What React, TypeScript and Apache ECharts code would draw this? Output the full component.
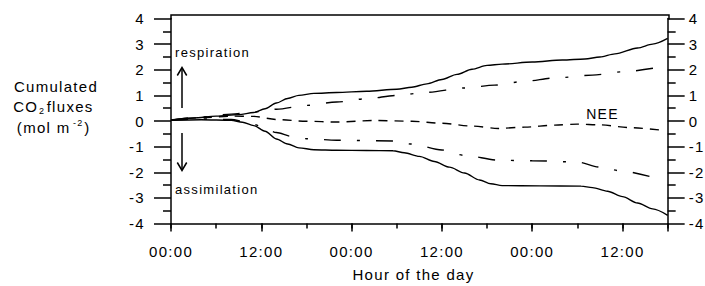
import React, { useEffect, useRef } from "react";
import * as echarts from "echarts";

const FONT = "'Liberation Sans', Arial, Helvetica, sans-serif";

const xTickLabels = ["00:00", "12:00"];

// [hour since start, cumulated CO2 flux (mol m-2)]
const upperSolid: [number, number][] = [
  [0, 0.03], [3, 0.12], [6, 0.19], [9, 0.25], [11, 0.33], [12.5, 0.48], [14, 0.7],
  [15.5, 0.88], [17, 1.0], [19, 1.08], [22, 1.11], [26, 1.16], [30, 1.24], [32, 1.32],
  [34, 1.45], [36, 1.62], [38, 1.82], [40, 2.02], [42, 2.17], [44, 2.22], [48, 2.3],
  [52, 2.38], [55, 2.42], [57, 2.5], [59, 2.62], [62, 2.85], [64, 3.0], [66, 3.22],
];

const lowerSolid: [number, number][] = [
  [0, 0.03], [4, 0.05], [8, 0.03], [9.5, -0.05], [11, -0.18], [12.5, -0.4], [14, -0.7],
  [15.5, -0.9], [17, -1.05], [19, -1.12], [22, -1.14], [26, -1.15], [29.5, -1.16],
  [31, -1.24], [33, -1.38], [35, -1.58], [37, -1.8], [39, -2.03], [41, -2.3],
  [42.5, -2.45], [44, -2.52], [49, -2.53], [54.5, -2.54], [56, -2.6], [58, -2.74],
  [60, -2.95], [62, -3.2], [64, -3.43], [66, -3.68],
];

const upperDashDot: [number, number][] = [
  [0, 0.04], [4, 0.16], [8, 0.27], [12, 0.37], [14, 0.46], [18, 0.61], [22, 0.74],
  [26, 0.87], [30, 1.0], [34, 1.12], [39, 1.29], [43, 1.4], [47, 1.55], [51, 1.68],
  [56, 1.79], [60, 1.92], [64.5, 2.08],
];

const lowerDashDot: [number, number][] = [
  [0, 0.03], [4, 0.08], [8, 0.06], [10, -0.04], [12, -0.2], [14, -0.45], [16, -0.6],
  [18, -0.69], [22, -0.75], [29.5, -0.78], [32, -0.9], [36, -1.13], [39, -1.34],
  [43.5, -1.53], [48, -1.55], [54, -1.6], [57, -1.8], [60, -1.96], [64.5, -2.24],
];

const nee: [number, number][] = [
  [0, 0.04], [4, 0.13], [8, 0.19], [11, 0.18], [14, 0.06], [18, -0.01], [22, -0.04],
  [27, 0.02], [32, -0.01], [36, -0.09], [40, -0.2], [43.5, -0.29], [47, -0.24],
  [51, -0.16], [54, -0.12], [57, -0.15], [61, -0.26], [65.5, -0.37],
];

const DASH_DOT = [17, 16, 3, 16];
const DASHED = [9, 7];

export default function App() {
  const ref = useRef<HTMLDivElement>(null);

  useEffect(() => {
    if (!ref.current) return;
    const chart = echarts.init(ref.current, null, { renderer: "svg" });

    const GL = 171;
    const GR = 669;
    const GT = 18.5;
    const GB = 223.5;

    const line = (name: string, data: [number, number][], type: any) => ({
      type: "line",
      name,
      data,
      xAxisIndex: 0,
      yAxisIndex: 0,
      symbol: "none",
      smooth: 0.3,
      smoothMonotone: "x",
      silent: true,
      lineStyle: { color: "#000", width: 1.4, type },
      z: 3,
    });

    const axisLabelStyle = { color: "#000", fontSize: 15, fontFamily: FONT };

    const yAxisBase = {
      type: "value",
      min: -4,
      max: 4,
      interval: 1,
      splitLine: { show: false },
      axisLine: { show: true, onZero: false, lineStyle: { color: "#000", width: 1.5 } },
      axisTick: { show: true, inside: false, length: 17, lineStyle: { color: "#000", width: 1.5 } },
      minorTick: { show: true, splitNumber: 2, length: 8, lineStyle: { color: "#000", width: 1.5 } },
    };

    const txt = (text: string, x: number, y: number, size: number, align: string) => ({
      type: "text",
      silent: true,
      x,
      y,
      style: {
        text,
        fill: "#000",
        fontSize: size,
        fontFamily: FONT,
        textAlign: align,
        align,
        textVerticalAlign: "middle",
        verticalAlign: "middle",
      },
    });

    const option: any = {
      animation: false,
      backgroundColor: "#fff",
      grid: { left: GL, right: 705 - GR, top: GT, bottom: 286 - GB, containLabel: false },
      xAxis: [
        {
          type: "value",
          min: 0,
          max: 66,
          interval: 6,
          position: "bottom",
          splitLine: { show: false },
          axisLine: { show: true, onZero: false, lineStyle: { color: "#000", width: 1.5 } },
          axisTick: { show: true, length: 5, lineStyle: { color: "#000", width: 1.5 } },
          axisLabel: {
            ...axisLabelStyle,
            margin: 20,
            formatter: (v: number) => (v % 12 === 0 ? xTickLabels[(v / 12) % 2] : ""),
          },
        },
        {
          type: "value",
          min: 0,
          max: 66,
          interval: 12,
          position: "bottom",
          splitLine: { show: false },
          axisLine: { show: false, onZero: false },
          axisTick: { show: true, length: 8, lineStyle: { color: "#000", width: 1.5 } },
          axisLabel: { show: false },
        },
      ],
      yAxis: [
        {
          ...yAxisBase,
          position: "left",
          axisLabel: { ...axisLabelStyle, margin: 26 },
        },
        {
          ...yAxisBase,
          position: "right",
          axisLabel: { ...axisLabelStyle, margin: 21 },
        },
      ],
      series: [
        line("upper bound", upperSolid, "solid"),
        line("respiration", upperDashDot, DASH_DOT),
        line("NEE", nee, DASHED),
        line("assimilation", lowerDashDot, DASH_DOT),
        line("lower bound", lowerSolid, "solid"),
      ],
      graphic: [
        {
          type: "polyline",
          silent: true,
          shape: { points: [[GL, GT + 1], [GL, 15], [GR, 15], [GR, GT + 1]] },
          style: { stroke: "#000", lineWidth: 1.5, fill: null },
        },
        // respiration arrow
        {
          type: "line",
          silent: true,
          shape: { x1: 182, y1: 108, x2: 182, y2: 68 },
          style: { stroke: "#000", lineWidth: 1.5 },
        },
        {
          type: "polyline",
          silent: true,
          shape: { points: [[177.3, 75.5], [182, 67.5], [186.7, 75.5]] },
          style: { stroke: "#000", lineWidth: 1.5, fill: null },
        },
        // assimilation arrow
        {
          type: "line",
          silent: true,
          shape: { x1: 182, y1: 133, x2: 182, y2: 170 },
          style: { stroke: "#000", lineWidth: 1.5 },
        },
        {
          type: "polyline",
          silent: true,
          shape: { points: [[177.3, 162.5], [182, 170.5], [186.7, 162.5]] },
          style: { stroke: "#000", lineWidth: 1.5, fill: null },
        },
        txt("respiration", 175, 52.5, 13, "left"),
        txt("assimilation", 175, 189.5, 13, "left"),
        txt("NEE", 602.5, 113.5, 14, "center"),
        // y-axis title
        txt("Cumulated", 56, 86, 15, "center"),
        {
          type: "text",
          silent: true,
          x: 56,
          y: 106.5,
          style: {
            text: "{a|CO}{s|2}{b|fluxes}",
            fill: "#000",
            fontSize: 15,
            fontFamily: FONT,
            textAlign: "center",
            align: "center",
            textVerticalAlign: "middle",
            verticalAlign: "middle",
            rich: {
              a: { fontSize: 15, fontFamily: FONT, lineHeight: 17, fill: "#000", padding: [0, 2.6, 0, 0] },
              s: { fontSize: 9, fontFamily: FONT, lineHeight: 10, verticalAlign: "bottom", fill: "#000", padding: [0, 6, 0, 0] },
              b: { fontSize: 15, fontFamily: FONT, lineHeight: 17, fill: "#000", padding: [0, 7.8, 0, 0] },
            },
          },
        },
        {
          type: "text",
          silent: true,
          x: 56,
          y: 127,
          style: {
            text: "{a|(mol m}{s|-2}{b|)}",
            fill: "#000",
            fontSize: 15,
            fontFamily: FONT,
            textAlign: "center",
            align: "center",
            textVerticalAlign: "middle",
            verticalAlign: "middle",
            rich: {
              a: { fontSize: 15, fontFamily: FONT, lineHeight: 17, fill: "#000", padding: [0, 7.8, 0, 0] },
              s: { fontSize: 9, fontFamily: FONT, lineHeight: 10, verticalAlign: "top", fill: "#000", padding: [0, 2.6, 0, 0] },
              b: { fontSize: 15, fontFamily: FONT, lineHeight: 17, fill: "#000", padding: [0, 1.3, 0, 0] },
            },
          },
        },
        // x-axis title
        txt("Hour of the day", 413.5, 274.5, 15, "center"),
      ],
    };

    chart.setOption(option);
    return () => chart.dispose();
  }, []);

  return (
    <div
      ref={ref}
      style={{
        position: "fixed",
        left: 0,
        top: 0,
        width: 705,
        height: 286,
        letterSpacing: "1.3px",
        background: "#fff",
      }}
    />
  );
}
